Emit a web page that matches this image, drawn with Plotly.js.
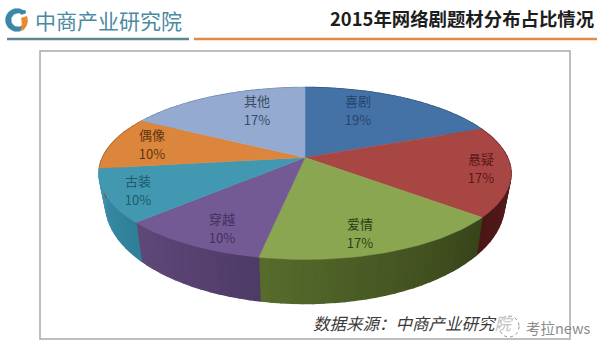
<!DOCTYPE html>
<html><head><meta charset="utf-8">
<script src="https://cdn.plot.ly/plotly-3.0.1.min.js"></script>
<style>html,body{margin:0;padding:0;background:#fff}#c{width:609px;height:354px}</style>
</head><body><div id="c"></div>
<script>
// ---- data ----
const categories = ['喜剧','悬疑','爱情','穿越','古装','偶像','其他'];
const shares = [19,17,17,10,10,10,17];

// ---- styles ----
const topColors = ['#4472a6','#a84643','#8aa650','#735a94','#4198b0','#dc853c','#94aad0'];
const wallStart = ['#2f5078','#6a2222','#38441a','#4f3b68','#2f7f98','#8a4c20','#6f82a0'];
const wallEnd   = ['#2f5078','#4a1717','#566b2c','#5e4878','#3f90ac','#a8602a','#6f82a0'];
const labelColors = ['#24466e','#5c1818','#2f3c14','#41305e','#1f5a6c','#5f3510','#3c4a63'];
const labelX = [358,481,360,222,138,152,257];
const labelY = [112,170,235,230,192,146,112];

// ---- perspective view of the disc ----
const cx=305, cyTop=157.5, RTop=202.5, HTop=83, cyBot=185.6, RBot=196, HBot=96, k=0.186;
function project(deg, cy, R, H){
  const t=deg*Math.PI/180, d=1+k*Math.cos(t);
  return [cx+R*Math.sin(t)/d, cy-H*Math.cos(t)/d];
}
function hex(c){return [1,3,5].map(i=>parseInt(c.substr(i,2),16));}
function mix(a,b,f){const A=hex(a),B=hex(b);return 'rgb('+A.map((v,i)=>Math.round(v+(B[i]-v)*f)).join(',')+')';}

const total = shares.reduce((a,b)=>a+b,0);
const traces=[];
const tops=[];
let acc=0;
shares.forEach((v,i)=>{
  const a0=acc/total*360, a1=(acc+v)/total*360; acc+=v;
  const n=Math.max(6,Math.round((a1-a0)/2.5));
  for(let j=0;j<n;j++){
    const s=a0+(a1-a0)*j/n, e=a0+(a1-a0)*(j+1)/n;
    const p=[project(s,cyTop,RTop,HTop),project(e,cyTop,RTop,HTop),project(e,cyBot,RBot,HBot),project(s,cyBot,RBot,HBot)];
    const col=mix(wallStart[i],wallEnd[i],j/(n-1));
    traces.push({type:'scatter',mode:'lines',x:[...p.map(q=>q[0]),p[0][0]],y:[...p.map(q=>q[1]),p[0][1]],
      fill:'toself',fillcolor:col,line:{color:col,width:1.4},hoverinfo:'skip',showlegend:false});
  }
  const xs=[cx],ys=[cyTop];
  const m=Math.round((a1-a0)/1.5);
  for(let j=0;j<=m;j++){const q=project(a0+(a1-a0)*j/m,cyTop,RTop,HTop);xs.push(q[0]);ys.push(q[1]);}
  xs.push(cx);ys.push(cyTop);
  tops.push({type:'scatter',mode:'lines',x:xs,y:ys,fill:'toself',fillcolor:topColors[i],
    line:{color:topColors[i],width:0.5},hoverinfo:'skip',showlegend:false,name:categories[i]});
});
traces.push(...tops);
const labelFont={family:'"Noto Sans CJK SC","Liberation Sans",sans-serif',size:13,color:labelColors};
traces.push({type:'scatter',mode:'text',x:labelX,y:labelY.map(y=>y-9.5),text:categories,
  textposition:'middle center',textfont:labelFont,hoverinfo:'skip',showlegend:false});
traces.push({type:'scatter',mode:'text',x:labelX,y:labelY.map(y=>y+9.5),text:shares.map(s=>s+'%'),
  textposition:'middle center',textfont:labelFont,hoverinfo:'skip',showlegend:false});

// logo ring, traced through the axes
const ring=[];
for(let a=50;a<=310;a+=10){const t=a*Math.PI/180;ring.push([17+11.5*Math.cos(t)*-1*-1,20+11.5*Math.sin(t)]);}
for(let a=310;a>=50;a-=10){const t=a*Math.PI/180;ring.push([18+7*Math.cos(t),20+7*Math.sin(t)]);}
traces.push({type:'scatter',mode:'lines',x:ring.map(q=>q[0]),y:ring.map(q=>q[1]),fill:'toself',fillcolor:'#3b87a8',
  line:{color:'#3b87a8',width:0.5},hoverinfo:'skip',showlegend:false});

const cjk='"Noto Sans CJK SC",sans-serif';
const layout={
  width:609,height:354,margin:{l:0,r:0,t:0,b:0},paper_bgcolor:'#fff',plot_bgcolor:'#fff',showlegend:false,
  xaxis:{range:[0,609],visible:false,fixedrange:true},
  yaxis:{range:[354,0],visible:false,fixedrange:true},
  shapes:[
    {type:'rect',layer:'below',x0:40,x1:570,y0:51,y1:339,line:{color:'#a9a9a9',width:1.5},fillcolor:'#fff'},
    {type:'line',layer:'below',x0:7,x1:189,y0:39,y1:39,line:{color:'#5f8791',width:2.5}},
    {type:'line',layer:'below',x0:194,x1:597,y0:39,y1:39,line:{color:'#e08a45',width:2.5}},
    {type:'path',layer:'above',path:'M 21 18 L 27 16 Q 29 22 26 27 Q 24 30 20 31 Q 23 25 21 18 Z',fillcolor:'#ea8a2e',line:{width:0}},
    {type:'circle',layer:'above',x0:22,x1:26,y0:10,y1:14,fillcolor:'#3b87a8',line:{width:0}},
    {type:'circle',layer:'above',x0:499,x1:519,y0:316,y1:337,fillcolor:'rgba(255,255,255,0.75)',line:{color:'#8f8f8f',width:1,dash:'dot'}}
  ],
  annotations:[
    {xref:'x',yref:'y',x:108,y:20,text:'中商产业研究院',showarrow:false,font:{family:cjk,size:21,color:'#4a8aa2'}},
    {xref:'x',yref:'y',x:597,y:18,xanchor:'right',text:'<b>2015年网络剧题材分布占比情况</b>',showarrow:false,font:{family:cjk,size:18.4,color:'#1d1d1d'}},
    {xref:'x',yref:'y',x:311,y:323,xanchor:'left',text:'<i>数据来源：中商产业研究<span style="color:#c4c4c4">院</span></i>',showarrow:false,font:{family:cjk,size:16.5,color:'#3a3a3a'}},
    {xref:'x',yref:'y',x:524,y:327,xanchor:'left',text:'考拉news',showarrow:false,font:{family:cjk,size:14.5,color:'#8b8b8b'}}
  ]
};
Plotly.newPlot('c',traces,layout,{staticPlot:true,displayModeBar:false});
</script></body></html>
